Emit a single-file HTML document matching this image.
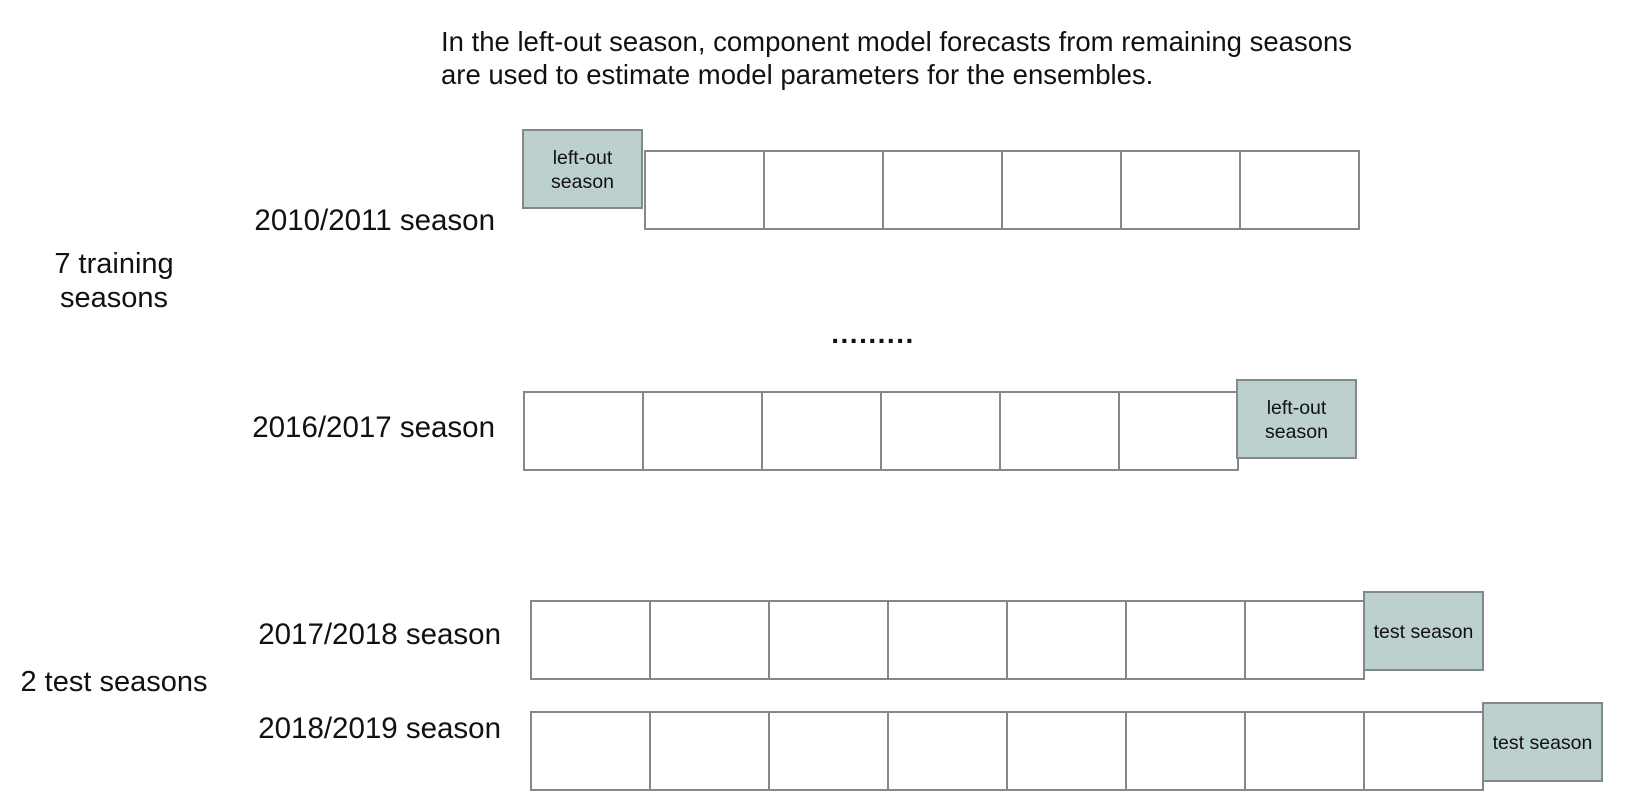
<!DOCTYPE html>
<html><head><meta charset="utf-8"><style>
html,body{margin:0;padding:0;background:#fff}
svg{display:block;font-family:"Liberation Sans",Arial,sans-serif}
</style></head><body>
<svg width="1630" height="808" viewBox="0 0 1630 808">
<g font-size="27.5" fill="#111">
<text x="441" y="51">In the left-out season, component model forecasts from remaining seasons</text>
<text x="441" y="84">are used to estimate model parameters for the ensembles.</text>
</g>
<g font-size="29" fill="#111" text-anchor="middle">
<text x="114" y="273">7 training</text>
<text x="114" y="307">seasons</text>
<text x="114" y="691">2 test seasons</text>
<text x="873" y="343" font-weight="bold" font-size="28" letter-spacing="1.5">.........</text>
</g>
<g id="rows" font-size="29.5" fill="#111"></g>
</svg>
<script>
const rowLabels=["2010/2011 season","2016/2017 season","2017/2018 season","2018/2019 season"];
const rowCellCounts=[6,6,7,8];
const specialText=["left-out\nseason","left-out\nseason","test season","test season"];
const rowGeom=[
 {lx:495,ly:230,cx:645,cy:151,sx:523,sy:130},
 {lx:495,ly:437,cx:524,cy:392,sx:1237,sy:380},
 {lx:501,ly:644,cx:531,cy:601,sx:1364,sy:592},
 {lx:501,ly:738,cx:531,cy:712,sx:1483,sy:703}
];
const NS="http://www.w3.org/2000/svg";
const g=document.getElementById('rows');
const W=119,H=78;
function mk(t,a){const e=document.createElementNS(NS,t);for(const k in a)e.setAttribute(k,a[k]);return e;}
rowLabels.forEach((lab,i)=>{
 const r=rowGeom[i];
 const t=mk('text',{x:r.lx,y:r.ly,'text-anchor':'end'});
 t.textContent=lab;
 
 
 g.appendChild(t);
 for(let c=0;c<rowCellCounts[i];c++){
  const rc=mk('rect',{x:r.cx+c*W,y:r.cy,width:W,height:H,fill:'#fff',stroke:'#85888a','stroke-width':2});
  
  
  g.appendChild(rc);
 }
 const sb=mk('rect',{x:r.sx,y:r.sy,width:W,height:H,fill:'#bcd0cf',stroke:'#85888a','stroke-width':2});
 
 
 g.appendChild(sb);
 const lines=specialText[i].split('\n');
 lines.forEach((ln,j)=>{
  const y=r.sy+H/2+7+(j-(lines.length-1)/2)*24;
  const tt=mk('text',{x:r.sx+W/2,y:y,'text-anchor':'middle','font-size':19.5});
  tt.textContent=ln;
  
  
  g.appendChild(tt);
 });
});
</script>
</body></html>
